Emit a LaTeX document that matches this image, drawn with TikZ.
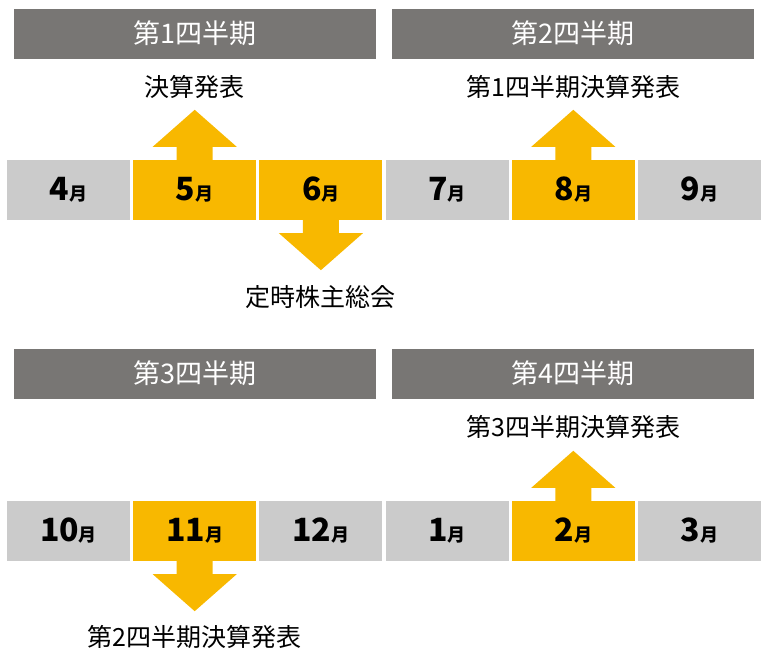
\documentclass[tikz,border=0pt]{standalone}
\usepackage{fontspec}
\setmainfont{Noto Sans CJK JP}
\usetikzlibrary{matrix,positioning,calc}

\definecolor{headgrey}{HTML}{787674}
\definecolor{boxgrey}{HTML}{CBCBCB}
\definecolor{hilite}{HTML}{F8B800}

\tikzset{
  mon/.style={minimum width=123pt,minimum height=60pt,inner sep=0pt,anchor=center},
  off/.style={fill=boxgrey},
  on/.style={fill=hilite},
  head/.style={fill=headgrey,text=white,minimum width=362pt,minimum height=50pt,inner sep=0pt,
    font=\fontsize{27}{27}\selectfont},
  lbl/.style={inner sep=0pt,font=\fontsize{25}{25}\selectfont},
  uparr/.pic={\fill[hilite] (-18,-1) -- (-18,13) -- (-42,13) -- (0,50) -- (42,13) -- (18,13) -- (18,-1) -- cycle;},
  dnarr/.pic={\fill[hilite] (-18,1) -- (-18,-13) -- (-42,-13) -- (0,-50) -- (42,-13) -- (18,-13) -- (18,1) -- cycle;}
}
% month: big number, small kanji
\newcommand{\mo}[1]{{\fontsize{32}{32}\selectfont\bfseries #1}{\fontsize{18}{18}\selectfont\bfseries 月}}

\begin{document}
\begin{tikzpicture}[x=1pt,y=1pt]
	\useasboundingbox (0,0) rectangle (768,650);
	\matrix [matrix of nodes,ampersand replacement=\&,column sep=3.2pt,row sep=281pt,nodes={mon}] (m) at (384,289.5) {
  |[off]| \mo{4}  \& |[on]| \mo{5}   \& |[on]| \mo{6}   \& |[off]| \mo{7} \& |[on]| \mo{8} \& |[off]| \mo{9} \\
  |[off]| \mo{10} \& |[on]| \mo{11}  \& |[off]| \mo{12} \& |[off]| \mo{1} \& |[on]| \mo{2} \& |[off]| \mo{3} \\
 };
	% quarters
	\node [head,above=101pt of m-1-2] (h1) {第1四半期};
	\node [head,above=101pt of m-1-5] (h2) {第2四半期};
	\node [head,above=102pt of m-2-2] (h3) {第3四半期};
	\node [head,above=102pt of m-2-5] (h4) {第4四半期};
	% arrows
	\pic at (m-1-2.north) {uparr};
	\pic at (m-1-3.south) {dnarr};
	\pic at (m-1-5.north) {uparr};
	\pic at (m-2-2.south) {dnarr};
	\pic at (m-2-5.north) {uparr};
	\node [lbl] (t1) at ([yshift=73pt]m-1-2.north) {決算発表};
	\node [lbl] (t2) at ([yshift=-77pt]m-1-3.south) {定時株主総会};
	\node [lbl] (t3) at ([yshift=73pt]m-1-5.north) {第1四半期決算発表};
	\node [lbl] (t4) at ([yshift=-76pt]m-2-2.south) {第2四半期決算発表};
	\node [lbl] (t5) at ([yshift=74pt]m-2-5.north) {第3四半期決算発表};
\end{tikzpicture}
\end{document}
